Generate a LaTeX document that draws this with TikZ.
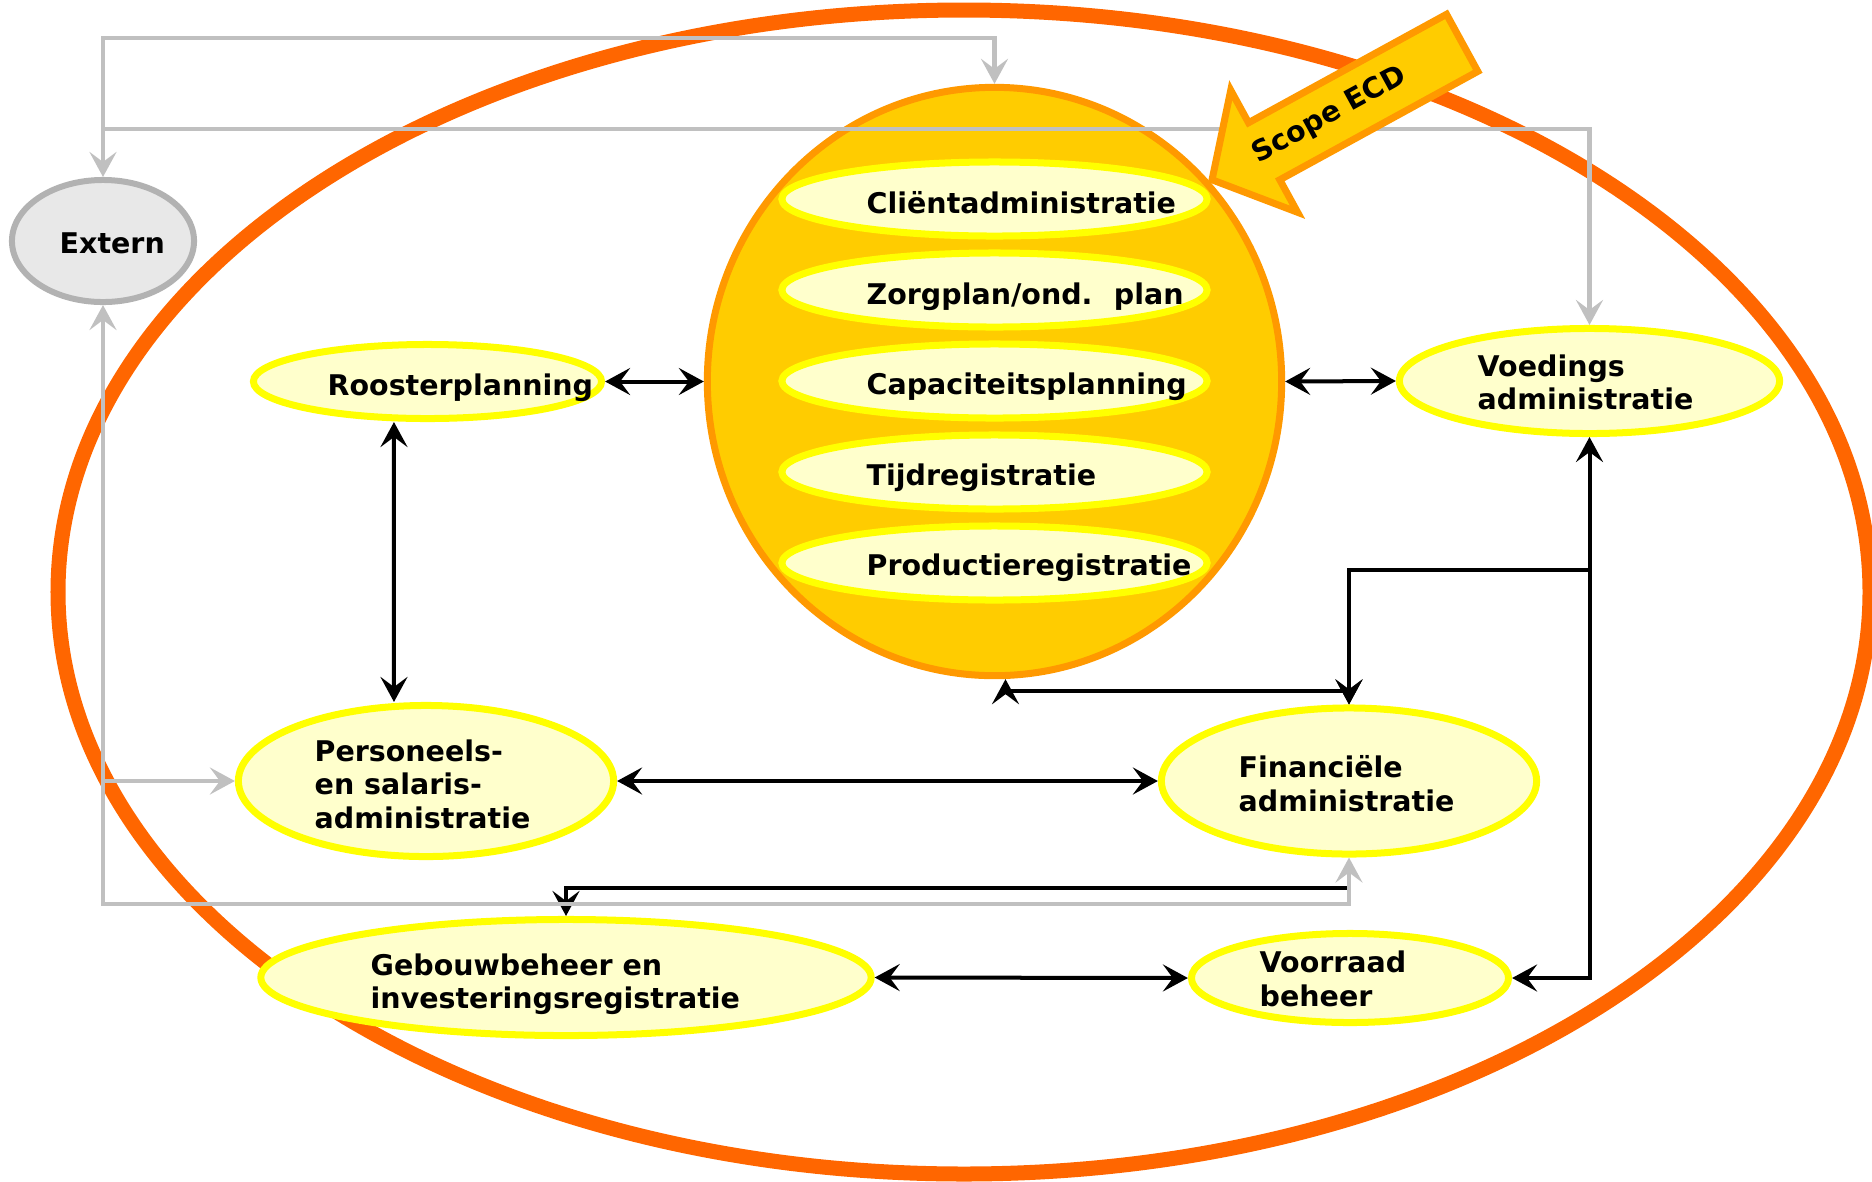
\documentclass[tikz,border=0pt]{standalone}
\usepackage{fontspec}
\setmainfont{DejaVu Sans}
\usetikzlibrary{arrows.meta,shapes.geometric,shapes.arrows}

\definecolor{ringoranje}{HTML}{FF6600}
\definecolor{bolgeel}{HTML}{FFCC00}
\definecolor{bolrand}{HTML}{FF9900}
\definecolor{lichtgeel}{HTML}{FFFFCC}
\definecolor{felgeel}{HTML}{FFFF00}
\definecolor{lijngrijs}{HTML}{C0C0C0}
\definecolor{extgrijs}{HTML}{E8E8E8}
\definecolor{extrand}{HTML}{B2B2B2}

\tikzset{
  letter/.style={inner sep=0pt, font=\fontsize{8.1}{9.5}\selectfont\bfseries},
  tekst/.style={letter, anchor=base west},
  blok/.style={letter, anchor=west, align=left},
  systeem/.style={ellipse, draw=felgeel, fill=lichtgeel, line width=0.07cm, inner sep=0pt},
  zwart/.style={line width=0.04cm, black},
  grijs/.style={line width=0.045cm, lijngrijs},
}

\begin{document}
\begin{tikzpicture}[x=0.01cm, y=-0.01cm, >={Stealth[length=0.25cm,width=0.27cm,inset=0.1cm]}]
  \useasboundingbox (0,0) rectangle (1872,1181);
  \draw[ringoranje, line width=0.15cm] (964,592) ellipse [x radius=906, y radius=582];

  \node[ellipse, draw=bolrand, fill=bolgeel, line width=0.07cm, inner sep=0pt,
        minimum width=5.74cm, minimum height=5.88cm] (ecd) at (994.5,381.5) {};
  \node[systeem, minimum width=4.25cm, minimum height=0.74cm] (client) at (994.5,199) {};
  \node[systeem, minimum width=4.25cm, minimum height=0.74cm] (zorg) at (994.5,290) {};
  \node[systeem, minimum width=4.25cm, minimum height=0.74cm] (capa) at (994.5,381) {};
  \node[systeem, minimum width=4.25cm, minimum height=0.74cm] (tijd) at (994.5,472) {};
  \node[systeem, minimum width=4.25cm, minimum height=0.74cm] (prod) at (994.5,563) {};
  \node[tekst] (client-t) at ([shift={(-128.5,14)}]client.center) {Cliëntadministratie};
  \node[tekst] (zorg-t) at ([shift={(-128.5,14)}]zorg.center) {Zorgplan/ond.\hspace{0.75em}plan};
  \node[tekst] (capa-t) at ([shift={(-128.5,13.5)}]capa.center) {Capaciteitsplanning};
  \node[tekst] (tijd-t) at ([shift={(-128.5,13)}]tijd.center) {Tijdregistratie};
  \node[tekst] (prod-t) at ([shift={(-128.5,12.5)}]prod.center) {Productieregistratie};

  \node[ellipse, draw=extrand, fill=extgrijs, line width=0.06cm, inner sep=0pt,
        minimum width=1.82cm, minimum height=1.22cm] (ext) at (103,241) {};
  \node[tekst] (ext-t) at ([shift={(-44,12)}]ext.center) {Extern};
  \node[systeem, minimum width=3.48cm, minimum height=0.74cm] (rooster) at (427.5,381.5) {};
  \node[tekst] (rooster-t) at ([shift={(-100.5,13.5)}]rooster.center) {Roosterplanning};
  \node[systeem, minimum width=3.80cm, minimum height=1.05cm] (voed) at (1589.5,381) {};
  \node[blok] (voed-t) at ([shift={(-112.5,1.5)}]voed.center) {Voedings\\administratie};
  \node[systeem, minimum width=3.75cm, minimum height=1.51cm] (pers) at (426,781) {};
  \node[blok] (pers-t) at ([shift={(-112,3)}]pers.center) {Personeels-\\en salaris-\\administratie};
  \node[systeem, minimum width=3.75cm, minimum height=1.46cm] (fin) at (1349,781) {};
  \node[blok] (fin-t) at ([shift={(-111,2.5)}]fin.center) {Financiële\\administratie};
  \node[systeem, minimum width=6.10cm, minimum height=1.16cm] (gebouw) at (566,977.5) {};
  \node[blok] (gebouw-t) at ([shift={(-196,6.5)}]gebouw.center) {Gebouwbeheer en\\investeringsregistratie};
  \node[systeem, minimum width=3.17cm, minimum height=0.89cm] (voorraad) at (1350,978) {};
  \node[blok] (voorraad-t) at ([shift={(-91,1)}]voorraad.center) {Voorraad\\beheer};

  \draw[grijs,<->] (ext.north) |- (ecd.north |- 0,38) -- (ecd.north);
  \draw[grijs,->] (ext.north |- 0,129) -| (voed.north);
  \draw[zwart,->] ([yshift=-0.12cm]fin.south) |- (gebouw.north |- 0,888) -- (gebouw.north);
  \draw[grijs,<->] (ext.south) |- (fin.south |- 0,904) -- (fin.south);
  \draw[grijs,->] (ext.south |- pers.west) -- (pers.west);

  \draw[zwart,<->] (rooster.east) -- (ecd.west);
  \draw[zwart,<->] (ecd.east) -- (voed.west);
  \draw[zwart,<->] ([xshift=-0.335cm]rooster.south) -- ([xshift=-0.32cm]pers.north);
  \draw[zwart,<->] (pers.east) -- (fin.west);
  \draw[zwart,<->] (gebouw.east) -- (voorraad.west);
  \draw[zwart,<->] (voed.south) |- (voorraad.east);
  \draw[zwart,->] (voed.south |- 0,570) -| (fin.north);
  \draw[zwart,<->] ([xshift=0.11cm]ecd.south) |- (fin.north |- 0,691) -- (fin.north);

  \node[single arrow, shape border rotate=180, draw=bolrand, fill=bolgeel, line width=0.07cm,
        minimum height=2.85cm, inner xsep=0pt, inner ysep=0.155cm,
        single arrow head extend=0.37cm, single arrow tip angle=99,
        font=\fontsize{8.1}{9.5}\selectfont\bfseries, rotate=28.7, anchor=tip]
        (scope) at (1208,182) {Scope ECD\hspace*{0.45cm}};
\end{tikzpicture}
\end{document}
